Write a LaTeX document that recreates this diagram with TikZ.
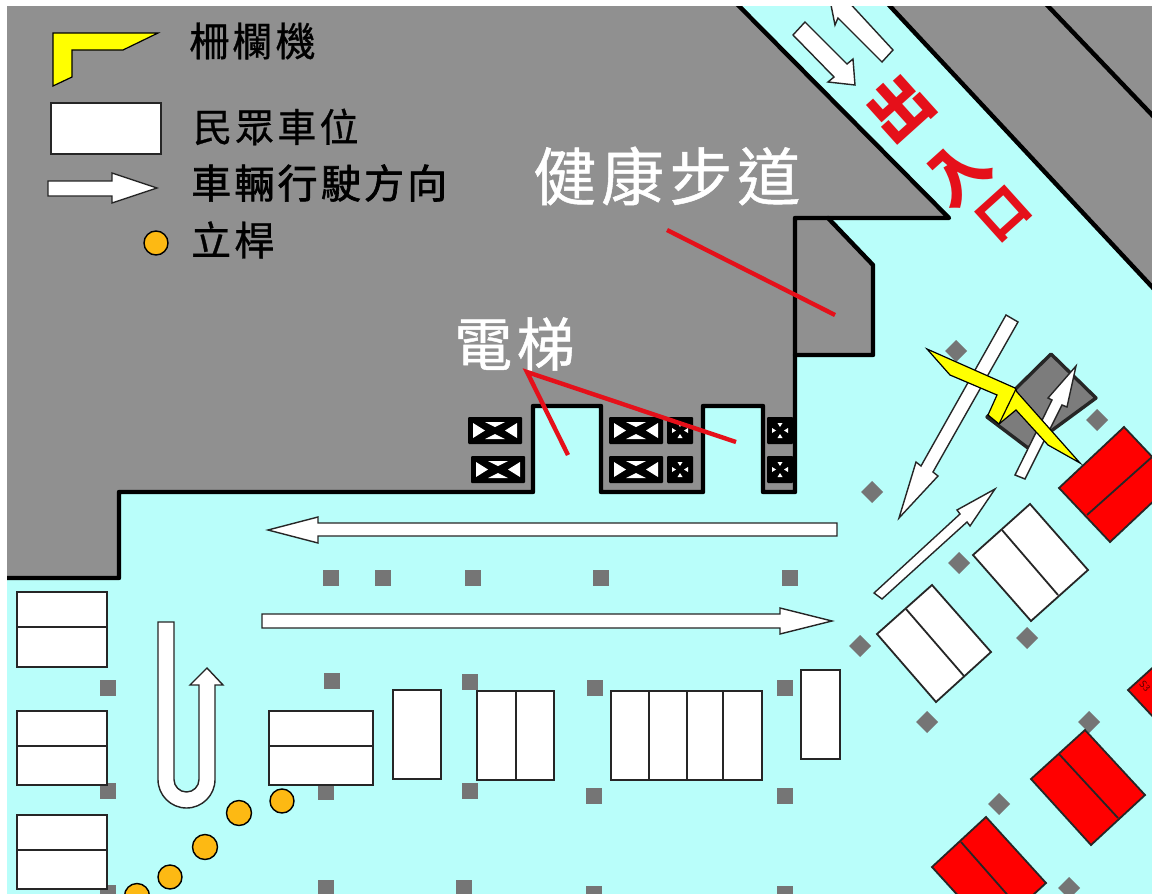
\documentclass[tikz,border=0pt]{standalone}
\usepackage{fontspec}
\newfontfamily\cjkL[LetterSpace=8,FakeBold=0.8]{Noto Sans CJK TC}
\newfontfamily\cjkH[LetterSpace=8,FakeBold=1.6]{Noto Sans CJK TC}
\newfontfamily\cjkP{Noto Sans CJK TC}
\definecolor{floor}{HTML}{B9FEFA}
\definecolor{block}{HTML}{909090}
\definecolor{postgray}{HTML}{757575}
\definecolor{poleorange}{HTML}{FDB913}
\definecolor{signred}{HTML}{E5101A}
\definecolor{barrier}{HTML}{FFFF00}
\tikzset{
  wall/.style={draw=black,line width=4.4pt,line join=round,line cap=round},
  bay/.style={draw=black!85,fill=white,line width=1.8pt,line join=miter},
  redbay/.style={draw=black!85,fill=red,line width=1.8pt,line join=miter},
  baydiv/.style={draw=black!85,line width=1.8pt},
  flow/.style={draw=black!85,fill=white,line width=1.4pt,line join=miter},
  gate/.style={draw=black,fill=barrier,line width=1.2pt,line join=miter},
  pole/.style={draw=black,fill=poleorange,line width=1.4pt},
  pointer/.style={draw=signred,line width=4.4pt},
  lbl/.style={inner sep=0pt,anchor=west},
  post/.style={fill=postgray},
  liftbig/.pic={
    \fill[black,rounded corners=1pt] (0,0) rectangle (54,27);
    \fill[white] (5,6) -- (5,21) -- (17,13.5) -- cycle;
    \fill[white] (49,6) -- (49,21) -- (37,13.5) -- cycle;
    \fill[white] (17,5) -- (37,5) -- (27,10) -- cycle;
    \fill[white] (17,22) -- (37,22) -- (27,17) -- cycle;
  },
  liftsmall/.pic={
    \fill[black,rounded corners=1pt] (0,0) rectangle (26,27);
    \fill[white] (5,11) -- (5,16) -- (9,13.5) -- cycle;
    \fill[white] (21,11) -- (21,16) -- (17,13.5) -- cycle;
    \fill[white] (10.5,6) -- (15.5,6) -- (13,10) -- cycle;
    \fill[white] (10.5,21) -- (15.5,21) -- (13,17) -- cycle;
  }
}
\begin{document}
\begin{tikzpicture}[x=1pt,y=-1pt]
\useasboundingbox (0,0) rectangle (1152,894);
\fill[white] (0,0) rectangle (1152,894);
\begin{scope}
\clip (7,6) rectangle (1152,894);
\fill[floor] (7,6) rectangle (1152,894);
% building mass
\fill[block] (7,6) -- (737,6) -- (949,218) -- (795,218) -- (795,492) -- (763,492) -- (763,406) -- (703,406) -- (703,492) -- (601,492) -- (601,406) -- (533,406) -- (533,492) -- (119,492) -- (119,578) -- (7,578) -- cycle;
\fill[block] (795,218) -- (828,218) -- (873,265) -- (873,355) -- (795,355) -- cycle;
\draw[wall] (828,218) -- (873,265) -- (873,355) -- (795,355);
\draw[wall] (7,578) -- (119,578) -- (119,492) -- (533,492) -- (533,406) -- (601,406) -- (601,492) -- (703,492) -- (703,406) -- (763,406) -- (763,492) -- (795,492) -- (795,218) -- (949,218) -- (737,4);
% upper right
\fill[block] (888,4) -- (1154,289) -- (1154,4) -- cycle;
\draw[wall] (888,4) -- (1154,289);
\draw[wall] (1046,4) -- (1154,117);
% lifts
\pic at (468,417) {liftbig};
\pic at (471,456) {liftbig};
\pic at (609,417) {liftbig};
\pic at (609,456) {liftbig};
\pic at (667,417) {liftsmall};
\pic at (667,456) {liftsmall};
\pic at (767,417) {liftsmall};
\pic at (767,456) {liftsmall};
% square posts
\foreach \x/\y in {331/578,383/578,473/578,601/578,790/578,108/688,332/681,470/682,595/688,785/688,108/791,326/792,470/791,594/796,785/796,108/893,326/888,464/888,594/894,785/894}
  \fill[post] (\x-8,\y-8) rectangle (\x+8,\y+8);
% diamond posts
\foreach \x/\y in {956/351,1097/420,872/492,959/563,860/646,1027/638,927/722,1089/722,999/804,1069/888}
  \fill[post] (\x,\y-11) -- (\x+11,\y) -- (\x,\y+11) -- (\x-11,\y) -- cycle;
% central island
\draw[draw=black!85,line width=3.4pt,fill=postgray!95!white,line join=round] (1051,354) -- (1096,398) -- (1028,448) -- (987,417) -- cycle;
% white bays
\draw[bay] (17,592) rectangle (107,667); \draw[baydiv] (17,627) -- (107,627);
\draw[bay] (17,711) rectangle (107,785); \draw[baydiv] (17,746) -- (107,746);
\draw[bay] (17,815) rectangle (107,889); \draw[baydiv] (17,850) -- (107,850);
\draw[bay] (269,711) rectangle (373,785); \draw[baydiv] (269,746) -- (373,746);
\draw[bay] (393,690) rectangle (441,779);
\draw[bay] (477,691) rectangle (554,780); \draw[baydiv] (516,691) -- (516,780);
\draw[bay] (611,691) rectangle (762,780); \draw[baydiv] (649,691) -- (649,780); \draw[baydiv] (687,691) -- (687,780); \draw[baydiv] (723,691) -- (723,780);
\draw[bay] (801,670) rectangle (840,759);
\draw[bay] (1030,504) -- (1088,570) -- (1031,621) -- (973,555) -- cycle; \draw[baydiv] (1002,530) -- (1058,595);
\draw[bay] (932,585) -- (991,652) -- (936,702) -- (877,634) -- cycle; \draw[baydiv] (906,609) -- (964,676);
% red bays
\draw[redbay] (1124,427) -- (1175,481) -- (1110,542) -- (1059,488) -- cycle; \draw[baydiv] (1087,515) -- (1152,457);
\draw[redbay] (1085,730) -- (1145,795) -- (1091,845) -- (1031,779) -- cycle; \draw[baydiv] (1059,754) -- (1118,818);
\draw[redbay] (986,817) -- (1046,883) -- (992,933) -- (932,867) -- cycle; \draw[baydiv] (961,842) -- (1019,908);
\draw[redbay] (1128,690) -- (1160,661) -- (1170,735) -- cycle;
\node[inner sep=0pt,rotate=-50,text=black!70!red,font=\fontsize{10}{10}\selectfont\sffamily] (baytag) at (1145,686) {S3};
% flow arrows
\draw[flow] (837,523) -- (318,523) -- (318,517) -- (268,530) -- (318,543) -- (318,536) -- (837,536) -- cycle;
\draw[flow] (262,614) -- (780,614) -- (780,608) -- (832,621) -- (780,634) -- (780,628) -- (262,628) -- cycle;
\draw[flow] (1006,315) -- (1018,322) -- (933,472) -- (938,476) -- (899,518) -- (916,462) -- (921,466) -- cycle;
\draw[flow] (874,593) -- (882,599) -- (967,522) -- (970,526) -- (995,489) -- (957,510) -- (960,514) -- cycle;
\draw[flow] (793,35) -- (805,22) -- (847,64) -- (853,59) -- (855,85) -- (828,82) -- (834,77) -- cycle;
\draw[flow] (893,50) -- (882,62) -- (838,18) -- (835,25) -- (826,-20) -- (870,-15) -- (845,-2) -- cycle;
\draw[flow] (158,622) -- (174,622) -- (174,779.5) arc[start angle=180,end angle=0,radius=12.5] -- (199,685) -- (190,685) -- (207,668) -- (223,685) -- (215,685) -- (215,779.5) arc[start angle=0,end angle=180,radius=28.5] -- cycle;
% barrier with the small arrow under it
\draw[flow] (1015,475) -- (1025,479) -- (1062,405) -- (1067,407) -- (1076,366) -- (1048,398) -- (1052,400) -- cycle;
\draw[gate] (927,349) -- (1015,388) -- (1017,392) -- (1080,463) -- (1048,445) -- (1016,410) -- (999,424) -- (988,415) -- (997,395) -- (950,375) -- cycle;
\draw[line width=1.2pt] (1016,389) -- (999,424);
% poles
\draw[pole] (282,801) circle[radius=12];
\draw[pole] (239,813) circle[radius=12.5];
\draw[pole] (205,847) circle[radius=12.5];
\draw[pole] (170,877) circle[radius=12];
\draw[pole] (137,896) circle[radius=12.5];
% legend
\draw[gate] (53,33) -- (158,33) -- (123,50) -- (72,50) -- (72,77) -- (53,86) -- cycle;
\draw[bay] (51,103) rectangle (161,154);
\draw[flow] (48,181) -- (112,181) -- (112,173) -- (157,188) -- (112,203) -- (112,196) -- (48,196) -- cycle;
\draw[pole] (156,243) circle[radius=12];
\node[lbl,font=\fontsize{40}{40}\cjkL] (legendgate) at (189,41) {柵欄機};
\node[lbl,font=\fontsize{39}{39}\cjkL] (legendbay) at (193,127) {民眾車位};
\node[lbl,font=\fontsize{40}{40}\cjkH] (legendflow) at (191,183) {車輛行駛方向};
\node[lbl,font=\fontsize{40}{40}\cjkL] (legendpole) at (191,240) {立桿};
% captions
\node[lbl,text=white,font=\fontsize{63}{63}\cjkL] (walk) at (533,176) {健康步道};
\node[lbl,text=white,font=\fontsize{58}{58}\cjkL] (lift) at (454,344) {電梯};
\coordinate (walktip) at (667,230);
\coordinate (walkend) at (835,315);
\coordinate (lifthub) at (527,372);
\coordinate (liftA) at (568,455);
\coordinate (liftB) at (736,442);
\draw[pointer] (walktip) -- (walkend);
\draw[pointer] (liftA) -- (lifthub) -- (liftB);
\node[inner sep=0pt,text=signred,rotate=42,font=\fontsize{62}{62}\cjkP\bfseries] (ch1) at (900,108) {出};
\node[inner sep=0pt,text=signred,rotate=42,font=\fontsize{62}{62}\cjkP\bfseries] (ch2) at (958,173) {入};
\node[inner sep=0pt,text=signred,rotate=42,font=\fontsize{50}{50}\cjkP\bfseries] (ch3) at (1004,214) {口};
\end{scope}
\end{tikzpicture}
\end{document}
